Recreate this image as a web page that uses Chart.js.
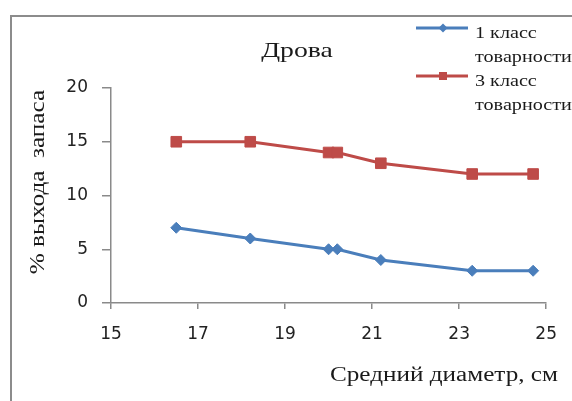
<!DOCTYPE html>
<html>
<head>
<meta charset="utf-8">
<script src="https://cdn.jsdelivr.net/npm/chart.js@4/dist/chart.umd.min.js"></script>
<style>
  html, body { margin: 0; padding: 0; background: #ffffff; }
  #wrap { width: 572px; height: 401px; }
</style>
</head>
<body>
<div id="wrap"><canvas id="c" width="572" height="401"></canvas></div>
<script>
// Average diameter (cm) of the sample plots
const diameters = [16.5, 18.2, 20.0, 20.2, 21.2, 23.3, 24.7];
// Share of firewood in the stock (%), by commercial class
const class1Values = [7, 6, 5, 5, 4, 3, 3];
const class3Values = [15, 15, 14, 14, 13, 12, 12];
const seriesNames = [["1 класс", "товарности"], ["3 класс", "товарности"]];
const xTicks = [15, 17, 19, 21, 23, 25];
const yTicks = [0, 5, 10, 15, 20];

const chartTitle = "Дрова";
const xTitle = "Средний диаметр, см";
const yTitle = "% выхода  запаса";

const BLUE = "#4a7ebb";
const RED = "#be4b48";
const AXIS = "#8a8a8a";
const SERIF = "'Liberation Serif', 'Times New Roman', serif";
const SANS = "'DejaVu Sans', sans-serif";
const STRETCH = 1.26; // wide text face

const toPoints = (xs, ys) => xs.map((x, i) => ({ x: x, y: ys[i] }));

// text drawn with a horizontal stretch
function wideText(ctx, text, x, y, align, stretch) {
  const w = ctx.measureText(text).width * stretch;
  let left = x;
  if (align === "center") left = x - w / 2;
  else if (align === "right") left = x - w;
  ctx.save();
  ctx.translate(left, y);
  ctx.scale(stretch, 1);
  ctx.textAlign = "left";
  ctx.fillText(text, 0, 0);
  ctx.restore();
}

// Frame, titles and the two-line legend
const decorations = {
  id: "decorations",
  beforeDraw(chart) {
    const ctx = chart.ctx;
    ctx.save();
    ctx.fillStyle = "#ffffff";
    ctx.fillRect(0, 0, chart.width, chart.height);
    ctx.strokeStyle = "#8c8c8c";
    ctx.lineWidth = 2;
    ctx.beginPath();
    ctx.moveTo(11, chart.height);
    ctx.lineTo(11, 16);
    ctx.lineTo(chart.width, 16);
    ctx.stroke();
    ctx.restore();
  },
  afterDraw(chart) {
    const ctx = chart.ctx;
    ctx.save();
    ctx.fillStyle = "#1a1a1a";
    ctx.textBaseline = "alphabetic";

    ctx.font = "22px " + SERIF;
    wideText(ctx, chartTitle, 297, 57, "center", STRETCH);

    ctx.font = "20px " + SERIF;
    wideText(ctx, xTitle, 558, 381, "right", STRETCH);

    ctx.save();
    ctx.translate(44, 182);
    ctx.rotate(-Math.PI / 2);
    ctx.font = "20px " + SERIF;
    wideText(ctx, yTitle, 0, 0, "center", STRETCH);
    ctx.restore();

    // legend
    const rows = [28, 76];
    chart.data.datasets.forEach((ds, i) => {
      const y = rows[i];
      ctx.strokeStyle = ds.borderColor;
      ctx.lineWidth = 3;
      ctx.beginPath();
      ctx.moveTo(416, y);
      ctx.lineTo(468, y);
      ctx.stroke();
      ctx.fillStyle = ds.pointBackgroundColor;
      if (ds.pointStyle === "rectRot") {
        ctx.beginPath();
        ctx.moveTo(443, y - 4.5);
        ctx.lineTo(447.5, y);
        ctx.lineTo(443, y + 4.5);
        ctx.lineTo(438.5, y);
        ctx.closePath();
        ctx.fill();
      } else {
        ctx.fillRect(439, y - 4, 8, 8);
      }
      ctx.fillStyle = "#1a1a1a";
      ctx.font = "16px " + SERIF;
      seriesNames[i].forEach((line, k) => {
        wideText(ctx, line, 475, y + 10 + k * 24, "left", STRETCH);
      });
    });
    ctx.restore();
  }
};

new Chart(document.getElementById("c"), {
  type: "scatter",
  data: {
    datasets: [
      {
        label: seriesNames[0].join(" "),
        data: toPoints(diameters, class1Values),
        showLine: true,
        borderColor: BLUE,
        backgroundColor: BLUE,
        pointBackgroundColor: BLUE,
        pointBorderColor: BLUE,
        borderWidth: 3,
        pointStyle: "rectRot",
        pointRadius: 5.5,
        pointBorderWidth: 1,
        tension: 0
      },
      {
        label: seriesNames[1].join(" "),
        data: toPoints(diameters, class3Values),
        showLine: true,
        borderColor: RED,
        backgroundColor: RED,
        pointBackgroundColor: RED,
        pointBorderColor: RED,
        borderWidth: 3,
        pointStyle: "rect",
        pointRadius: 7.5,
        pointBorderWidth: 1,
        tension: 0
      }
    ]
  },
  options: {
    responsive: false,
    animation: false,
    layout: { padding: { top: 88, right: 17, left: 0, bottom: 0 } },
    plugins: {
      legend: { display: false },
      title: { display: false },
      tooltip: { enabled: false }
    },
    scales: {
      x: {
        type: "linear",
        min: xTicks[0],
        max: xTicks[xTicks.length - 1],
        afterBuildTicks(scale) { scale.ticks = xTicks.map(v => ({ value: v })); },
        afterFit(scale) { scale.height = 98; },
        border: { color: AXIS, width: 1.5 },
        grid: { drawOnChartArea: false, drawTicks: true, tickLength: 6, color: AXIS, lineWidth: 1.5 },
        ticks: { color: "#222", font: { family: SANS, size: 17 }, padding: 15, maxRotation: 0 }
      },
      y: {
        type: "linear",
        min: yTicks[0],
        max: yTicks[yTicks.length - 1],
        afterBuildTicks(scale) { scale.ticks = yTicks.map(v => ({ value: v })); },
        afterFit(scale) { scale.width = 111; },
        border: { color: AXIS, width: 1.5 },
        grid: { drawOnChartArea: false, drawTicks: true, tickLength: 9, color: AXIS, lineWidth: 1.5 },
        ticks: { color: "#222", font: { family: SANS, size: 17 }, padding: 14 }
      }
    }
  },
  plugins: [decorations]
});
</script>
</body>
</html>
